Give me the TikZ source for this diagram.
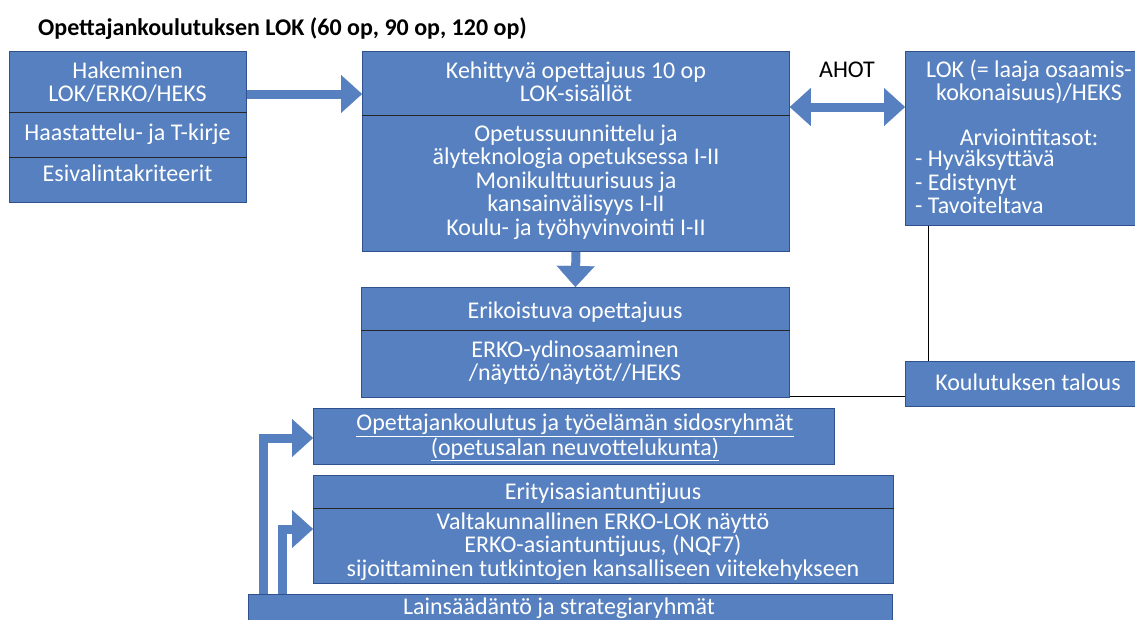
\documentclass[tikz,border=0pt]{standalone}
\usepackage{fontspec}
\setmainfont{Carlito}
\usetikzlibrary{arrows.meta}
\definecolor{boxblue}{RGB}{86,128,191}
\definecolor{boxedge}{RGB}{47,82,143}
\begin{document}
\begin{tikzpicture}[x=1pt,y=-1pt,
  panel/.style={draw=boxedge, line width=0.8pt, fill=boxblue, anchor=north west, inner sep=0pt},
  txt/.style={text=white, font=\fontsize{24}{23.5}\selectfont, align=center, inner sep=0pt},
  ltxt/.style={text=white, font=\fontsize{24}{23.5}\selectfont, align=left, inner sep=0pt, anchor=west},
  divider/.style={draw=black!85, line width=1pt},
  thinline/.style={draw=black, line width=0.9pt},
  blockarrow/.style={draw=boxblue, line width=9pt, line join=miter, line cap=butt},
  bhead/.style={-{Triangle[width=38pt,length=21pt,line width=0.1pt]}},
  bboth/.style={{Triangle[width=38pt,length=21pt,line width=0.1pt]}-{Triangle[width=38pt,length=21pt,line width=0.1pt]}}
]
\clip (0,0) rectangle (1135,619);
\useasboundingbox (0,0) rectangle (1135,619);

% title
\node[anchor=base west, inner sep=0pt, font=\fontsize{24}{26}\selectfont\bfseries] (title) at (38,35) {Opettajankoulutuksen LOK (60 op, 90 op, 120 op)};

% boxes
\node[panel, minimum width=237pt, minimum height=151pt] (box1) at (9,51) {};
\node[panel, minimum width=427pt, minimum height=200pt] (box2) at (362,51) {};
\node[panel, minimum width=248pt, minimum height=174pt] (box3) at (905,51) {};
\node[panel, minimum width=428pt, minimum height=110pt] (erk) at (361,287) {};
\node[panel, minimum width=248pt, minimum height=45pt] (talous) at (905,361) {};
\node[panel, minimum width=521pt, minimum height=56pt] (opk) at (313,408) {};
\node[panel, minimum width=580pt, minimum height=108pt] (erit) at (313,475) {};
\node[panel, minimum width=644pt, minimum height=40pt] (lain) at (248,594) {};

% dividers
\draw[divider] (box1.west |- 0,112) -- (box1.east |- 0,112);
\draw[divider] (box1.west |- 0,157) -- (box1.east |- 0,157);
\draw[divider] (box2.west |- 0,115) -- (box2.east |- 0,115);
\draw[divider] (erk.west |- 0,330) -- (erk.east |- 0,330);
\draw[divider] (erit.west |- 0,508) -- (erit.east |- 0,508);

% texts
\node[txt] (t1a) at (127.5,82) {Hakeminen\\LOK/ERKO/HEKS};
\node[txt] (t1b) at (127.5,134) {Haastattelu- ja T-kirje};
\node[txt] (t1c) at (127.5,173) {Esivalintakriteerit};
\node[txt] (t2a) at (576,82) {Kehittyvä opettajuus 10 op\\LOK-sisällöt};
\node[txt] (t2b) at (576,182) {Opetussuunnittelu ja\\älyteknologia opetuksessa I-II\\Monikulttuurisuus ja\\kansainvälisyys I-II\\Koulu- ja työhyvinvointi I-II};
\node[txt] (t3a) at (1029,82) {LOK (= laaja osaamis-\\kokonaisuus)/HEKS};
\node[txt] (t3b) at (1029,137) {Arviointitasot:};
\node[ltxt] (t3c) at (915,182) {- Hyväksyttävä\\- Edistynyt\\- Tavoiteltava};
\node[font=\fontsize{24}{26}\selectfont, inner sep=0pt] (ahot) at (847,70) {AHOT};
\node[txt] (te1) at (575,312) {Erikoistuva opettajuus};
\node[txt] (te2) at (575,362.5) {ERKO-ydinosaaminen\\/näyttö/näytöt//HEKS};
\node[txt] (tk) at (1028,382) {Koulutuksen talous};
\node[txt] (to) at (575,437.5) {\underline{Opettajankoulutus ja työelämän sidosryhmät}\\\underline{(opetusalan neuvottelukunta)}};
\node[txt] (tr1) at (603,493) {Erityisasiantuntijuus};
\node[txt] (tr2) at (603,546.5) {Valtakunnallinen ERKO-LOK näyttö\\ERKO-asiantuntijuus, (NQF7)\\sijoittaminen tutkintojen kansalliseen viitekehykseen};
\node[txt] (tl) at (559,608) {Lainsäädäntö ja strategiaryhmät};

% block arrows
\draw[blockarrow, bhead] (box1.east |- 0,94) -- (box2.west |- 0,94);
\draw[blockarrow, bboth] (box2.east |- 0,107) -- (box3.west |- 0,107);
\draw[blockarrow, bhead] (box2.south) -- (erk.north);
\draw[blockarrow, bhead] (lain.north -| 263,0) |- (opk.west |- 0,438);
\draw[blockarrow, bhead] (lain.north -| 282.5,0) |- (erit.west |- 0,529);

% thin connectors
\draw[thinline] (box3.south -| 928.5,0) -- (talous.north -| 928.5,0);
\draw[thinline] (erk.east |- 0,396) -- (talous.west |- 0,396);
\end{tikzpicture}
\end{document}
